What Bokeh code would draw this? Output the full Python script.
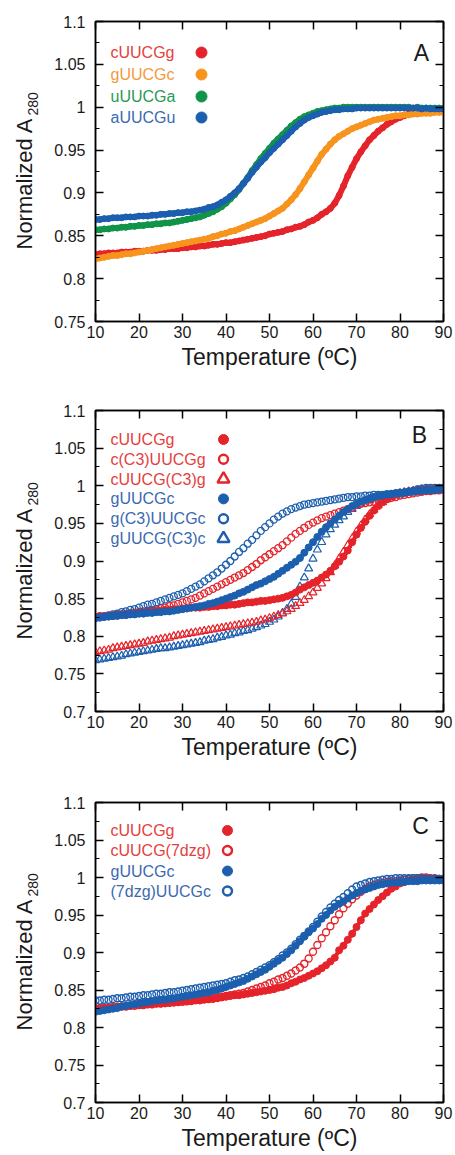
import numpy as np
from bokeh.plotting import figure
from bokeh.layouts import column, row
from bokeh.models import Range1d, FixedTicker, LinearAxis, CustomJSTickFormatter
from bokeh.core.properties import value
from bokeh.embed import file_html
from bokeh.resources import INLINE

# ---------------- data ----------------
TEMP = list(range(10, 91))

# Panel A
A_LABELS = ["cUUCGg", "gUUCGc", "uUUCGa", "aUUCGu"]
A_CUUCGG = [0.828,0.829,0.829,0.830,0.830,0.830,0.831,0.831,0.831,0.832,
            0.832,0.832,0.833,0.833,0.833,0.834,0.834,0.835,0.835,0.835,
            0.836,0.836,0.837,0.837,0.838,0.838,0.839,0.840,0.840,0.841,
            0.842,0.842,0.843,0.844,0.845,0.846,0.847,0.848,0.849,0.850,
            0.852,0.853,0.854,0.855,0.857,0.858,0.860,0.861,0.863,0.866,
            0.868,0.871,0.875,0.878,0.882,0.888,0.897,0.908,0.920,0.930,
            0.940,0.948,0.955,0.962,0.967,0.972,0.976,0.980,0.983,0.986,
            0.988,0.990,0.992,0.993,0.994,0.995,0.995,0.995,0.995,0.995,0.995]
A_GUUCGC = [0.823,0.824,0.825,0.826,0.827,0.827,0.828,0.829,0.829,0.830,
            0.831,0.832,0.833,0.834,0.835,0.836,0.837,0.838,0.839,0.840,
            0.841,0.842,0.843,0.844,0.845,0.846,0.847,0.849,0.850,0.852,
            0.853,0.855,0.856,0.858,0.860,0.862,0.864,0.866,0.868,0.870,
            0.873,0.876,0.879,0.882,0.887,0.892,0.898,0.905,0.913,0.921,
            0.929,0.937,0.945,0.951,0.957,0.962,0.966,0.969,0.972,0.975,
            0.977,0.979,0.981,0.983,0.985,0.986,0.987,0.988,0.989,0.990,
            0.990,0.991,0.991,0.992,0.992,0.993,0.993,0.993,0.994,0.994,0.994]
A_UUUCGA = [0.857,0.857,0.858,0.858,0.859,0.859,0.860,0.860,0.861,0.861,
            0.862,0.862,0.863,0.863,0.864,0.864,0.865,0.865,0.866,0.867,
            0.868,0.869,0.870,0.871,0.872,0.874,0.876,0.878,0.881,0.884,
            0.888,0.893,0.898,0.904,0.911,0.918,0.926,0.933,0.940,0.946,
            0.952,0.958,0.963,0.968,0.973,0.978,0.982,0.986,0.989,0.991,
            0.993,0.995,0.996,0.997,0.998,0.999,0.999,1.000,1.000,1.000,
            1.000,1.000,1.000,1.000,1.000,1.000,1.000,1.000,1.000,1.000,
            1.000,1.000,1.000,0.999,1.000,0.999,0.999,0.999,0.999,0.999,0.999]
A_AUUCGU = [0.869,0.869,0.870,0.870,0.871,0.871,0.871,0.872,0.872,0.872,
            0.873,0.873,0.873,0.874,0.874,0.875,0.875,0.876,0.876,0.877,
            0.877,0.878,0.878,0.879,0.880,0.881,0.883,0.884,0.886,0.889,
            0.892,0.896,0.900,0.905,0.911,0.917,0.924,0.930,0.936,0.941,
            0.947,0.952,0.957,0.962,0.967,0.972,0.977,0.981,0.985,0.988,
            0.990,0.992,0.994,0.995,0.996,0.997,0.997,0.998,0.998,0.998,
            0.999,0.999,0.999,0.999,0.999,0.999,0.999,0.999,0.999,0.999,
            0.999,0.999,0.999,0.999,0.999,0.998,0.999,0.998,0.998,0.998,0.998]

# Panel B
B_LABELS = ["cUUCGg", "c(C3)UUCGg", "cUUCG(C3)g", "gUUCGc", "g(C3)UUCGc", "gUUCG(C3)c"]
B_CUUCGG = [0.826,0.827,0.827,0.828,0.828,0.829,0.829,0.830,0.831,0.831,
            0.832,0.832,0.833,0.833,0.834,0.834,0.835,0.835,0.836,0.836,
            0.837,0.837,0.838,0.838,0.838,0.839,0.839,0.840,0.840,0.841,
            0.841,0.842,0.842,0.843,0.844,0.845,0.845,0.846,0.847,0.847,
            0.848,0.849,0.850,0.851,0.853,0.855,0.858,0.862,0.865,0.868,
            0.871,0.874,0.878,0.882,0.887,0.893,0.899,0.906,0.914,0.925,
            0.935,0.944,0.952,0.960,0.967,0.973,0.978,0.982,0.986,0.989,
            0.990,0.991,0.992,0.993,0.993,0.994,0.994,0.995,0.995,0.995,0.995]
B_C_C3_UUCGG = [0.825,0.826,0.826,0.827,0.827,0.828,0.829,0.829,0.830,0.831,
                0.832,0.833,0.834,0.835,0.836,0.837,0.838,0.840,0.841,0.843,
                0.845,0.847,0.849,0.851,0.854,0.857,0.860,0.863,0.866,0.869,
                0.872,0.875,0.878,0.881,0.884,0.888,0.892,0.896,0.901,0.905,
                0.909,0.913,0.917,0.921,0.926,0.931,0.936,0.940,0.944,0.948,
                0.951,0.954,0.957,0.959,0.961,0.963,0.965,0.967,0.969,0.971,
                0.975,0.976,0.977,0.978,0.979,0.981,0.982,0.983,0.984,0.985,
                0.987,0.988,0.989,0.990,0.991,0.992,0.993,0.993,0.994,0.994,0.995]
B_CUUCG_C3_G = [0.779,0.780,0.781,0.782,0.784,0.785,0.786,0.787,0.788,0.789,
                0.790,0.791,0.793,0.794,0.795,0.796,0.797,0.798,0.800,0.801,
                0.802,0.803,0.804,0.805,0.806,0.807,0.808,0.809,0.810,0.811,
                0.812,0.813,0.814,0.815,0.816,0.817,0.818,0.819,0.821,0.822,
                0.824,0.826,0.828,0.830,0.833,0.836,0.840,0.844,0.848,0.853,
                0.858,0.864,0.870,0.877,0.885,0.894,0.903,0.912,0.921,0.930,
                0.939,0.947,0.955,0.962,0.968,0.974,0.978,0.982,0.985,0.987,
                0.989,0.991,0.992,0.993,0.994,0.995,0.995,0.995,0.995,0.995,0.995]
B_GUUCGC = [0.825,0.825,0.826,0.826,0.827,0.827,0.828,0.828,0.829,0.829,
            0.830,0.830,0.831,0.831,0.832,0.832,0.833,0.833,0.834,0.835,
            0.836,0.837,0.838,0.839,0.840,0.841,0.843,0.844,0.846,0.848,
            0.850,0.852,0.854,0.857,0.859,0.862,0.865,0.868,0.870,0.873,
            0.876,0.879,0.883,0.887,0.891,0.895,0.899,0.904,0.911,0.918,
            0.925,0.932,0.939,0.945,0.950,0.955,0.960,0.965,0.969,0.973,
            0.976,0.979,0.981,0.983,0.985,0.986,0.987,0.988,0.989,0.990,
            0.991,0.991,0.992,0.992,0.993,0.993,0.994,0.994,0.994,0.995,0.995]
B_G_C3_UUCGC = [0.824,0.825,0.826,0.827,0.829,0.830,0.832,0.833,0.835,0.836,
                0.838,0.840,0.842,0.843,0.845,0.847,0.849,0.851,0.853,0.855,
                0.857,0.860,0.863,0.866,0.869,0.873,0.877,0.881,0.885,0.890,
                0.895,0.900,0.906,0.912,0.917,0.923,0.928,0.934,0.940,0.945,
                0.950,0.955,0.959,0.963,0.966,0.969,0.971,0.973,0.975,0.976,
                0.977,0.978,0.979,0.980,0.981,0.982,0.983,0.984,0.985,0.985,
                0.986,0.986,0.987,0.987,0.988,0.988,0.988,0.989,0.989,0.990,
                0.990,0.991,0.992,0.993,0.995,0.996,0.997,0.997,0.997,0.997,0.997]
B_GUUCG_C3_C = [0.768,0.769,0.770,0.771,0.772,0.773,0.774,0.776,0.777,0.778,
                0.779,0.780,0.781,0.782,0.783,0.784,0.784,0.785,0.786,0.787,
                0.788,0.789,0.790,0.791,0.792,0.794,0.795,0.796,0.798,0.799,
                0.801,0.802,0.804,0.805,0.807,0.808,0.810,0.812,0.814,0.816,
                0.819,0.822,0.826,0.831,0.836,0.843,0.852,0.866,0.878,0.890,
                0.903,0.915,0.925,0.935,0.942,0.948,0.954,0.959,0.965,0.969,
                0.973,0.976,0.979,0.981,0.983,0.985,0.986,0.987,0.988,0.989,
                0.990,0.991,0.992,0.992,0.993,0.993,0.994,0.994,0.995,0.995,0.995]

# Panel C
C_LABELS = ["cUUCGg", "cUUCG(7dzg)", "gUUCGc", "(7dzg)UUCGc"]
C_CUUCGG = [0.825,0.826,0.826,0.827,0.827,0.828,0.828,0.829,0.829,0.830,
            0.830,0.830,0.831,0.831,0.832,0.832,0.832,0.833,0.833,0.834,
            0.834,0.835,0.835,0.836,0.836,0.837,0.838,0.838,0.839,0.840,
            0.841,0.842,0.843,0.843,0.844,0.845,0.846,0.847,0.848,0.849,
            0.850,0.851,0.853,0.854,0.856,0.859,0.861,0.864,0.866,0.869,
            0.872,0.875,0.879,0.883,0.888,0.893,0.903,0.909,0.917,0.925,
            0.934,0.943,0.952,0.958,0.964,0.970,0.975,0.980,0.985,0.988,
            0.992,0.994,0.996,0.997,0.998,0.999,0.999,0.999,0.998,0.998,0.998]
C_CUUCG_7DZG = [0.825,0.825,0.826,0.826,0.827,0.827,0.828,0.828,0.829,0.829,
                0.830,0.830,0.831,0.831,0.832,0.832,0.833,0.833,0.834,0.834,
                0.835,0.835,0.836,0.837,0.837,0.838,0.838,0.839,0.840,0.841,
                0.842,0.843,0.844,0.845,0.846,0.848,0.850,0.852,0.854,0.856,
                0.859,0.861,0.864,0.866,0.869,0.872,0.876,0.880,0.885,0.892,
                0.901,0.910,0.919,0.927,0.935,0.943,0.951,0.959,0.965,0.971,
                0.976,0.981,0.985,0.988,0.990,0.992,0.993,0.994,0.995,0.995,
                0.996,0.997,0.998,0.999,0.999,1.000,1.000,0.999,0.999,0.998,0.998]
C_GUUCGC = [0.821,0.822,0.823,0.824,0.825,0.826,0.828,0.829,0.830,0.831,
            0.832,0.833,0.834,0.835,0.836,0.837,0.837,0.838,0.839,0.840,
            0.841,0.842,0.843,0.844,0.845,0.846,0.847,0.849,0.850,0.852,
            0.854,0.856,0.858,0.860,0.862,0.865,0.868,0.871,0.874,0.877,
            0.881,0.885,0.889,0.893,0.898,0.903,0.909,0.915,0.921,0.927,
            0.932,0.938,0.945,0.950,0.956,0.961,0.965,0.968,0.972,0.976,
            0.979,0.982,0.984,0.986,0.988,0.990,0.991,0.992,0.993,0.993,
            0.994,0.994,0.995,0.995,0.995,0.996,0.996,0.996,0.996,0.996,0.996]
C_7DZG_UUCGC = [0.836,0.836,0.837,0.837,0.838,0.839,0.839,0.840,0.841,0.841,
                0.842,0.843,0.843,0.844,0.845,0.845,0.846,0.847,0.847,0.848,
                0.849,0.850,0.851,0.852,0.853,0.854,0.855,0.856,0.857,0.858,
                0.859,0.861,0.863,0.864,0.866,0.868,0.871,0.874,0.877,0.880,
                0.883,0.887,0.891,0.896,0.900,0.905,0.911,0.917,0.922,0.928,
                0.934,0.941,0.948,0.954,0.960,0.965,0.970,0.974,0.979,0.984,
                0.988,0.990,0.992,0.994,0.995,0.996,0.997,0.998,0.998,0.999,
                0.999,0.999,0.999,0.999,0.999,0.999,0.998,0.998,0.998,0.998,0.998]

X_TICKS = [10, 20, 30, 40, 50, 60, 70, 80, 90]

# ---------------- styling ----------------
RED = "#e5232a"
ORANGE = "#f7941e"
GREEN = "#0f9448"
BLUE = "#1c5fae"
RED_T = "#e4413d"
ORANGE_T = "#f29a3c"
GREEN_T = "#2b9955"
BLUE_T = "#3b69b1"
FONT = "Liberation Sans"
INK = "#1a1a1a"
LAB_W = 50          # width of the strip holding the y-axis title
LEFT = 95 - LAB_W   # remaining border left of the frame
RIGHT = 12
FRAME_W = 455 - 95 - RIGHT


def fx(px):
    return 10 + px / FRAME_W * 80


def ytitle_strip(h, bottom):
    q = figure(width=LAB_W, height=h, x_range=Range1d(0, LAB_W), y_range=Range1d(0, h),
               output_backend="svg", toolbar_location=None, min_border=0, title=None,
               x_axis_type=None, y_axis_type=None, frame_align=False)
    q.grid.visible = False
    q.outline_line_color = None
    q.text(x=[24], y=[bottom + 72], text=["Normalized A"], angle=np.pi / 2,
           text_font=value(FONT), text_font_size=value("22px"), text_color=INK,
           text_align="left", text_baseline="middle")
    q.text(x=[32], y=[bottom + 206], text=["280"], angle=np.pi / 2,
           text_font=value(FONT), text_font_size=value("14px"), text_color=INK,
           text_align="left", text_baseline="middle")
    return q


def make_panel(ymin, top, frame_h, bottom, letter, letter_pos):
    h = top + frame_h + bottom
    p = figure(width=455 - LAB_W, height=h, x_range=Range1d(10, 90), y_range=Range1d(ymin, 1.1),
               output_backend="svg", toolbar_location=None,
               min_border_left=LEFT, min_border_right=RIGHT, min_border_top=top,
               min_border_bottom=bottom, frame_align=False)
    p.xgrid.visible = False
    p.ygrid.visible = False
    p.outline_line_color = "black"
    p.outline_line_width = 1.5
    p.background_fill_color = "white"
    p.border_fill_color = "white"

    def fy(py):
        return 1.1 - py / frame_h * (1.1 - ymin)

    yt = [round(v, 3) for v in np.arange(ymin, 1.1001, 0.05)]
    ym = [round(v + 0.025, 3) for v in yt[:-1]]
    fmt = CustomJSTickFormatter(code="return parseFloat(tick.toFixed(3)).toString();")
    blank = CustomJSTickFormatter(code="return '';")

    for ax in (p.xaxis[0], p.yaxis[0]):
        ax.major_tick_in = 8
        ax.major_tick_out = 0
        ax.minor_tick_in = 4
        ax.minor_tick_out = 0
        ax.axis_line_width = 1.5
        ax.major_tick_line_width = 1.5
        ax.minor_tick_line_width = 1.2
        ax.major_label_text_font = FONT
        ax.major_label_text_font_size = "16px"
        ax.major_label_text_color = INK
        ax.formatter = fmt
    p.xaxis[0].ticker = FixedTicker(ticks=X_TICKS)
    p.yaxis[0].ticker = FixedTicker(ticks=yt, minor_ticks=ym)
    p.xaxis[0].major_label_standoff = 4
    p.yaxis[0].major_label_standoff = 10
    p.xaxis[0].axis_label = "Temperature (ºC)"
    p.xaxis[0].axis_label_text_font = FONT
    p.xaxis[0].axis_label_text_font_size = "23px"
    p.xaxis[0].axis_label_text_font_style = "normal"
    p.xaxis[0].axis_label_text_color = INK
    p.xaxis[0].axis_label_standoff = 3

    # mirrored axes (ticks only)
    top_ax = LinearAxis(ticker=FixedTicker(ticks=X_TICKS), formatter=blank)
    right_ax = LinearAxis(ticker=FixedTicker(ticks=yt, minor_ticks=ym), formatter=blank)
    for ax in (top_ax, right_ax):
        ax.major_tick_in = 8
        ax.major_tick_out = 0
        ax.minor_tick_in = 4
        ax.minor_tick_out = 0
        ax.axis_line_width = 1.5
        ax.major_tick_line_width = 1.5
        ax.minor_tick_line_width = 1.2
        ax.major_label_standoff = 0
    p.add_layout(top_ax, "above")
    p.add_layout(right_ax, "right")

    # panel letter
    lx, ly = letter_pos
    p.text(x=[fx(lx)], y=[fy(ly)], text=[letter], text_font=value(FONT),
           text_font_size=value("23px"), text_align="center", text_baseline="middle",
           text_color=INK)
    return row(ytitle_strip(h, bottom), p, spacing=0), p, fy


def legend_text(p, fy, labels, colors, rows):
    p.text(x=[fx(15)] * len(labels), y=[fy(r) for r in rows], text=labels,
           text_color=colors, text_font=value(FONT), text_font_size=value("16px"),
           text_align="left", text_baseline="middle")


def filled(p, ys, c):
    p.line(TEMP, ys, line_width=4, line_color=c)
    p.scatter(TEMP, ys, size=7, fill_color=c, line_color=c)


def open_c(p, ys, c):
    p.scatter(TEMP, ys, size=7, fill_color=None, line_color=c, line_width=1.3)


def open_t(p, ys, c):
    p.scatter(TEMP, ys, marker="triangle", size=8, fill_color=None, line_color=c, line_width=1.2)


# ---------------- Panel A ----------------
rA, pA, fyA = make_panel(0.75, 21, 300, 72, "A", (326, 31.5))
for ys, c in ((A_CUUCGG, RED), (A_GUUCGC, ORANGE), (A_UUUCGA, GREEN), (A_AUUCGU, BLUE)):
    pA.line(TEMP, ys, line_width=6, line_color=c)
    pA.scatter(TEMP, ys, size=6, fill_color=c, line_color=c)
rowsA = [31, 53, 75, 96]
legend_text(pA, fyA, A_LABELS, [RED_T, ORANGE_T, GREEN_T, BLUE_T], rowsA)
pA.scatter([fx(106)] * 4, [fyA(r) for r in rowsA], size=11,
           fill_color=[RED, ORANGE, GREEN, BLUE], line_color=[RED, ORANGE, GREEN, BLUE])

# ---------------- Panel B ----------------
rB, pB, fyB = make_panel(0.7, 17, 301, 69, "B", (324, 24.5))
open_t(pB, B_GUUCG_C3_C, BLUE)
open_t(pB, B_CUUCG_C3_G, RED)
filled(pB, B_CUUCGG, RED)
open_c(pB, B_C_C3_UUCGG, RED)
filled(pB, B_GUUCGC, BLUE)
open_c(pB, B_G_C3_UUCGC, BLUE)

rowsB = [29, 48.8, 68.6, 88.4, 108.2, 128]
legend_text(pB, fyB, B_LABELS, [RED_T, RED_T, RED_T, BLUE_T, BLUE_T, BLUE_T], rowsB)
mxB = fx(128)
pB.scatter([mxB, mxB], [fyB(rowsB[0]), fyB(rowsB[3])], size=10,
           fill_color=[RED, BLUE], line_color=[RED, BLUE])
pB.scatter([mxB, mxB], [fyB(rowsB[1]), fyB(rowsB[4])], size=9,
           fill_color=None, line_color=[RED, BLUE], line_width=2.4)
pB.scatter([mxB, mxB], [fyB(rowsB[2]), fyB(rowsB[5])], marker="triangle", size=12,
           fill_color=None, line_color=[RED, BLUE], line_width=2.4)

# ---------------- Panel C ----------------
rC, pC, fyC = make_panel(0.7, 22, 300, 53, "C", (325, 23))
filled(pC, C_CUUCGG, RED)
open_c(pC, C_CUUCG_7DZG, RED)
filled(pC, C_GUUCGC, BLUE)
open_c(pC, C_7DZG_UUCGC, BLUE)

rowsC = [28, 48, 68.5, 88.5]
legend_text(pC, fyC, C_LABELS, [RED_T, RED_T, BLUE_T, BLUE_T], rowsC)
mxC = fx(132)
pC.scatter([mxC, mxC], [fyC(rowsC[0]), fyC(rowsC[2])], size=10,
           fill_color=[RED, BLUE], line_color=[RED, BLUE])
pC.scatter([mxC, mxC], [fyC(rowsC[1]), fyC(rowsC[3])], size=9,
           fill_color=None, line_color=[RED, BLUE], line_width=2.4)

layout = column(rA, rB, rC, spacing=0)
open("out.html", "w").write(file_html(layout, INLINE))
